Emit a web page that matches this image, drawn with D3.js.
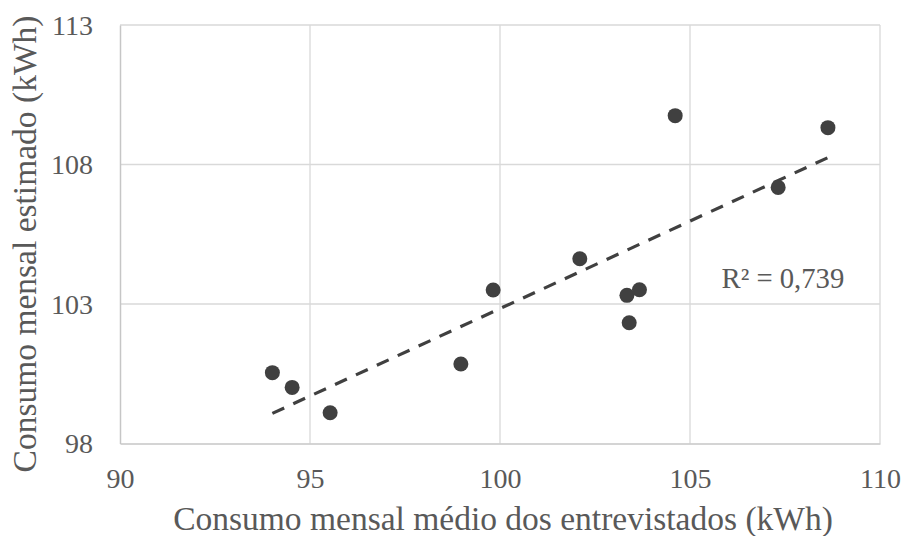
<!DOCTYPE html>
<html>
<head>
<meta charset="utf-8">
<script src="https://cdn.jsdelivr.net/npm/d3@7"></script>
<style>
  html, body { margin: 0; padding: 0; background: #fff; }
  svg { display: block; }
  text { font-family: "Liberation Serif", "Times New Roman", serif; fill: #595959; }
</style>
</head>
<body>
<svg id="chart" width="906" height="536"></svg>
<script>
// ---- data ----
const xValues = [94.01, 94.53, 95.53, 98.97, 99.82, 102.10, 103.34, 103.67, 103.40, 104.61, 107.32, 108.63];
const yValues = [100.54, 100.01, 99.10, 100.85, 103.50, 104.62, 103.31, 103.51, 102.33, 109.75, 107.18, 109.32];
const xTicks = [90, 95, 100, 105, 110];
const yTicks = [98, 103, 108, 113];
const xTitle = "Consumo mensal médio dos entrevistados (kWh)";
const yTitle = "Consumo mensal estimado (kWh)";
const r2Label = "R² = 0,739";

// ---- layout ----
const svg = d3.select("#chart");
const pLeft = 120, pRight = 880, pTop = 25, pBottom = 443.5;
const x = d3.scaleLinear().domain([90, 110]).range([pLeft, pRight]);
const y = d3.scaleLinear().domain([98, 113]).range([pBottom, pTop]);

// gridlines
const grid = svg.append("g");
grid.selectAll(".vg").data(xTicks.slice(1)).enter().append("line")
  .attr("x1", d => x(d)).attr("x2", d => x(d))
  .attr("y1", pTop).attr("y2", pBottom)
  .attr("stroke", "#d9d9d9").attr("stroke-width", 1.3);
grid.selectAll(".hg").data(yTicks.slice(1)).enter().append("line")
  .attr("x1", pLeft).attr("x2", pRight)
  .attr("y1", d => y(d)).attr("y2", d => y(d))
  .attr("stroke", "#d9d9d9").attr("stroke-width", 1.3);

// axes
const xAxis = d3.axisBottom(x).tickValues(xTicks).tickSize(0).tickPadding(0).tickFormat(d3.format("d"));
const gx = svg.append("g").attr("transform", `translate(0,${pBottom})`).call(xAxis);
gx.select(".domain").attr("stroke", "#c6c6c6").attr("stroke-width", 1.5);
gx.selectAll("text").attr("font-size", 28).attr("fill", "#595959")
  .attr("dy", null).attr("y", 44.5).attr("font-family", "Liberation Serif");

const yAxis = d3.axisLeft(y).tickValues(yTicks).tickSize(0).tickPadding(0).tickFormat(d3.format("d"));
const gy = svg.append("g").attr("transform", `translate(${pLeft},0)`).call(yAxis);
gy.select(".domain").attr("stroke", "#c6c6c6").attr("stroke-width", 1.5);
gy.selectAll("text").attr("font-size", 28).attr("fill", "#595959")
  .attr("x", -27).attr("dy", "0.33em").attr("font-family", "Liberation Serif");

// trendline (least squares)
const n = xValues.length;
const mx = d3.mean(xValues), my = d3.mean(yValues);
let sxy = 0, sxx = 0;
for (let i = 0; i < n; i++) { sxy += (xValues[i]-mx)*(yValues[i]-my); sxx += (xValues[i]-mx)**2; }
const slope = sxy / sxx, intercept = my - slope * mx;
const x0 = d3.min(xValues), x1 = d3.max(xValues);
svg.append("line")
  .attr("x1", x(x0)).attr("y1", y(intercept + slope*x0))
  .attr("x2", x(x1)).attr("y2", y(intercept + slope*x1))
  .attr("stroke", "#404040").attr("stroke-width", 3.2)
  .attr("stroke-dasharray", "13,10");

// points
svg.append("g").selectAll("circle").data(xValues.map((d,i)=>[d, yValues[i]])).enter().append("circle")
  .attr("cx", d => x(d[0])).attr("cy", d => y(d[1])).attr("r", 7.5)
  .attr("fill", "#404040");

// R² label
svg.append("text").attr("x", 721.5).attr("y", 288).attr("font-size", 28.7).text(r2Label);

// titles
svg.append("text").attr("x", 503).attr("y", 530).attr("text-anchor", "middle")
  .attr("font-size", 33.5).text(xTitle);
svg.append("text").attr("transform", `translate(36,244) rotate(-90)`)
  .attr("text-anchor", "middle").attr("font-size", 33.5).text(yTitle);
</script>
</body>
</html>
